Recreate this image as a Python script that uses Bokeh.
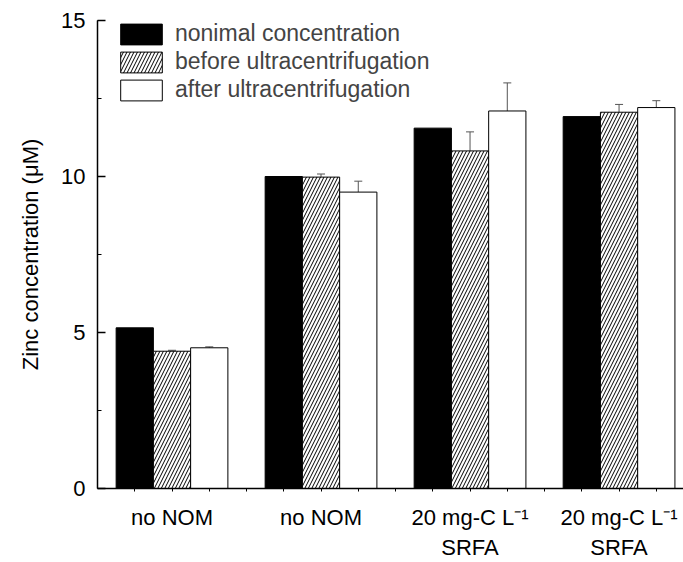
import numpy as np
from bokeh.plotting import figure
from bokeh.models import (ColumnDataSource, Range1d, FixedTicker, SingleIntervalTicker,
                          Whisker, TeeHead, Legend, LegendItem)
from bokeh.embed import file_html
from bokeh.resources import INLINE

# ---- data ----
group_labels = ["no NOM", "no NOM", "20 mg-C L\u207b\u00b9\nSRFA", "20 mg-C L\u207b\u00b9\nSRFA"]
series_names = ["nonimal concentration", "before ultracentrifugation", "after ultracentrifugation"]
nominal = [5.15, 10.0, 11.55, 11.92]
before = [4.40, 9.98, 10.82, 12.06]
before_err = [0.03, 0.10, 0.61, 0.25]
after = [4.51, 9.50, 12.10, 12.21]
after_err = [0.03, 0.35, 0.90, 0.22]
y_ticks_interval = 5

FONT = "Liberation Sans"

n = len(group_labels)
base = np.arange(n) * 4
x_nom = base + 1
x_bef = base + 2
x_aft = base + 3

p = figure(width=683, height=562, output_backend="svg", toolbar_location=None,
           x_range=Range1d(0, 15.73), y_range=Range1d(0, 15),
           min_border_left=97, min_border_right=0, min_border_top=20, min_border_bottom=74)
p.outline_line_color = None
p.xgrid.visible = False
p.ygrid.visible = False
p.background_fill_color = "white"
p.border_fill_color = "white"

src_nom = ColumnDataSource(dict(x=x_nom, top=nominal))
src_bef = ColumnDataSource(dict(x=x_bef, top=before,
                                lo=np.array(before) - np.array(before_err),
                                hi=np.array(before) + np.array(before_err)))
src_aft = ColumnDataSource(dict(x=x_aft, top=after,
                                lo=np.array(after) - np.array(after_err),
                                hi=np.array(after) + np.array(after_err)))

r1 = p.vbar(x="x", top="top", width=1, source=src_nom, fill_color="black",
            line_color="black", line_width=1)
r2 = p.vbar(x="x", top="top", width=1, source=src_bef, fill_color="white",
            line_color="black", line_width=1, hatch_pattern="/", hatch_color="black",
            hatch_scale=7, hatch_weight=1)
r3 = p.vbar(x="x", top="top", width=1, source=src_aft, fill_color="white",
            line_color="black", line_width=1)

for src in (src_bef, src_aft):
    w = Whisker(base="x", upper="hi", lower="lo", source=src, line_color="#555555",
                line_width=1,
                upper_head=TeeHead(size=8, line_color="#555555", line_width=1),
                lower_head=TeeHead(size=8, line_color="#555555", line_width=1))
    p.add_layout(w)

# y axis
yax = p.yaxis[0]
yax.ticker = SingleIntervalTicker(interval=y_ticks_interval, num_minor_ticks=2)
yax.axis_label = "Zinc concentration (\u03bcM)"
yax.axis_label_text_font = FONT
yax.axis_label_text_font_size = "22px"
yax.axis_label_text_font_style = "normal"
yax.axis_label_text_color = "black"
yax.axis_label_standoff = 15
yax.major_label_text_font = FONT
yax.major_label_text_font_size = "22px"
yax.major_label_standoff = 12
yax.major_tick_in = 8
yax.major_tick_out = 0
yax.minor_tick_in = 4
yax.minor_tick_out = 0
yax.axis_line_width = 1.5
yax.major_tick_line_width = 1.5
yax.axis_line_color = "black"
yax.major_label_text_color = "black"

# x axis
xax = p.xaxis[0]
ticks = list(range(1, 16))
xax.ticker = FixedTicker(ticks=ticks, minor_ticks=[])
overrides = {t: "" for t in ticks}
for i, lab in enumerate(group_labels):
    overrides[int(x_bef[i])] = lab
xax.major_label_overrides = overrides
xax.major_label_text_font = FONT
xax.major_label_text_font_size = "22px"
xax.major_label_text_color = "black"
xax.major_label_standoff = 13
xax.major_tick_in = 0
xax.major_tick_out = 3
xax.minor_tick_line_color = None
xax.axis_line_width = 1.5
xax.axis_line_color = "black"

legend = Legend(items=[LegendItem(label=series_names[0], renderers=[r1]),
                       LegendItem(label=series_names[1], renderers=[r2]),
                       LegendItem(label=series_names[2], renderers=[r3])],
                location=(18, 385), orientation="vertical")
legend.glyph_width = 52
legend.glyph_height = 26
legend.label_height = 26
legend.spacing = 1
legend.padding = 0
legend.margin = 0
legend.label_standoff = 8
legend.label_text_font = FONT
legend.label_text_font_size = "23px"
legend.border_line_color = None
legend.background_fill_alpha = 0
p.add_layout(legend)

open("out.html", "w").write(file_html(p, INLINE))
